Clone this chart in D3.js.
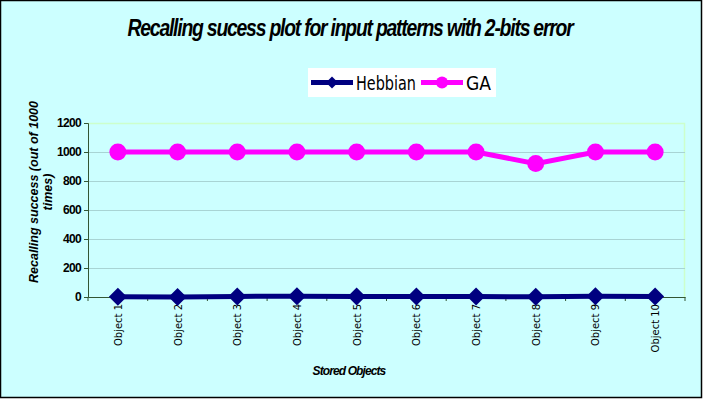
<!DOCTYPE html>
<html>
<head>
<meta charset="utf-8">
<script src="https://cdn.jsdelivr.net/npm/d3@7"></script>
<style>
  body { margin: 0; background: #fff; }
  svg { display: block; }
</style>
</head>
<body>
<svg id="chart" width="704" height="400"></svg>
<script>
var width = 704,
    height = 400;

// data
var objects = ["Object 1", "Object 2", "Object 3", "Object 4", "Object 5",
               "Object 6", "Object 7", "Object 8", "Object 9", "Object 10"];
var hebbian = [2, 0, 4, 6, 3, 3, 3, 2, 6, 3];
var ga = [1000, 1000, 1000, 1000, 1000, 1000, 1000, 920, 1000, 1000];
var yTicks = [0, 200, 400, 600, 800, 1000, 1200];

var margin = {left: 88, right: 19, top: 123, bottom: 103};
var plotW = width - margin.left - margin.right,
    plotH = height - margin.top - margin.bottom;

var svg = d3.select("#chart");

// background + frame
svg.append("rect")
    .attr("x", 0.5).attr("y", 0.5)
    .attr("width", width - 3).attr("height", height - 3)
    .attr("fill", "#ccffff")
    .attr("stroke", "#000").attr("stroke-width", 1.5);

svg.append("text")
    .attr("x", 350).attr("y", 36)
    .attr("text-anchor", "middle")
    .attr("textLength", 445)
    .attr("lengthAdjust", "spacingAndGlyphs")
    .style("font", "italic bold 24px 'Liberation Sans', Arial, sans-serif")
    .style("letter-spacing", "-1.5px")
    .text("Recalling sucess plot for input patterns with 2-bits error");

var x = d3.scaleBand()
    .domain(objects)
    .range([0, plotW]);

var y = d3.scaleLinear()
    .domain([0, 1200])
    .range([plotH, 0]);

var g = svg.append("g")
    .attr("transform", "translate(" + margin.left + "," + margin.top + ")");

// plot area border (light green top/right)
g.append("path")
    .attr("d", "M0,0.5H" + (plotW - 0.5) + "V" + plotH)
    .attr("fill", "none")
    .attr("stroke", "#ccffcc")
    .attr("stroke-width", 1.5);

// gridlines
g.selectAll(".grid")
    .data(yTicks.filter(function(d) { return d > 0 && d < 1200; }))
    .enter()
    .append("line")
        .attr("class", "grid")
        .attr("x1", 0).attr("x2", plotW)
        .attr("y1", function(d) { return Math.round(y(d)) + 0.5; })
        .attr("y2", function(d) { return Math.round(y(d)) + 0.5; })
        .attr("stroke", "#a8d4d4")
        .attr("stroke-width", 1);

// y axis
var yAxis = g.append("g")
    .call(d3.axisLeft(y).tickValues(yTicks).tickFormat(d3.format("d")).tickSize(4).tickPadding(3));
yAxis.select(".domain").attr("stroke", "#335533");
yAxis.selectAll(".tick line").attr("stroke", "#335533");
yAxis.selectAll("text")
    .style("font", "bold 12px 'Liberation Sans', Arial, sans-serif")
    .style("letter-spacing", "-0.7px")
    .attr("fill", "#000");

// x axis
var xAxis = g.append("g")
    .attr("transform", "translate(0," + plotH + ")")
    .call(d3.axisBottom(x).tickSize(0).tickPadding(0).tickFormat(""));
xAxis.select(".domain").attr("stroke", "#335533");
xAxis.selectAll(".tick").remove();

// tick marks between categories
g.selectAll(".xtick")
    .data(objects.concat(["end"]))
    .enter()
    .append("line")
        .attr("class", "xtick")
        .attr("x1", function(d, i) { return i * x.step(); })
        .attr("x2", function(d, i) { return i * x.step(); })
        .attr("y1", plotH).attr("y2", plotH + 4)
        .attr("stroke", "#335533");

g.selectAll(".xlabel")
    .data(objects)
    .enter()
    .append("text")
        .attr("class", "xlabel")
        .attr("transform", function(d) {
            return "translate(" + (x(d) + x.bandwidth() / 2 + 4) + "," + (plotH + 7) + ") rotate(-90)";
        })
        .attr("text-anchor", "end")
        .style("font", "10px 'DejaVu Sans', sans-serif")
        .text(function(d) { return d; });

// axis titles
svg.append("text")
    .attr("transform", "translate(38,192) rotate(-90)")
    .attr("text-anchor", "middle")
    .style("font", "italic bold 12.5px 'Liberation Sans', Arial, sans-serif")
    .text("Recalling success (out of 1000");
svg.append("text")
    .attr("transform", "translate(52,192) rotate(-90)")
    .attr("text-anchor", "middle")
    .style("font", "italic bold 12.5px 'Liberation Sans', Arial, sans-serif")
    .text("times)");

svg.append("text")
    .attr("x", 349).attr("y", 375)
    .attr("text-anchor", "middle")
    .style("font", "italic bold 12px 'Liberation Sans', Arial, sans-serif")
    .style("letter-spacing", "-0.9px")
    .text("Stored Objects");

// series
var cx = function(d, i) { return x(objects[i]) + x.bandwidth() / 2; };

var line = d3.line()
    .x(cx)
    .y(function(d) { return y(d); });

g.append("path")
    .datum(hebbian)
    .attr("fill", "none")
    .attr("stroke", "#000080")
    .attr("stroke-width", 5)
    .attr("d", line);

g.selectAll(".heb")
    .data(hebbian)
    .enter()
    .append("path")
        .attr("class", "heb")
        .attr("transform", function(d, i) { return "translate(" + cx(d, i) + "," + y(d) + ")"; })
        .attr("d", "M0,-9L9,0L0,9L-9,0Z")
        .attr("fill", "#000080");

g.append("path")
    .datum(ga)
    .attr("fill", "none")
    .attr("stroke", "#ff00ff")
    .attr("stroke-width", 5)
    .attr("d", line);

g.selectAll(".ga")
    .data(ga)
    .enter()
    .append("circle")
        .attr("class", "ga")
        .attr("cx", cx)
        .attr("cy", function(d) { return y(d); })
        .attr("r", 8.5)
        .attr("fill", "#ff00ff");

// legend
var legend = svg.append("g").attr("transform", "translate(308,68)");
legend.append("rect")
    .attr("width", 188).attr("height", 29)
    .attr("fill", "#fff");

var items = [
    {name: "Hebbian", color: "#000080", shape: "diamond", x: 3, w: 60},
    {name: "GA", color: "#ff00ff", shape: "circle", x: 113, w: 25}
];
items.forEach(function(it) {
    var li = legend.append("g").attr("transform", "translate(" + it.x + ",14.5)");
    li.append("line")
        .attr("x1", 0).attr("x2", 42)
        .attr("stroke", it.color).attr("stroke-width", 5);
    if (it.shape === "diamond") {
        li.append("path").attr("d", "M21,-6L27,0L21,6L15,0Z").attr("fill", it.color);
    } else {
        li.append("circle").attr("cx", 21).attr("r", 6).attr("fill", it.color);
    }
    li.append("text")
        .attr("x", 45).attr("y", 7)
        .attr("textLength", it.w)
        .attr("lengthAdjust", "spacingAndGlyphs")
        .style("font", "19px 'DejaVu Sans', sans-serif")
        .text(it.name);
});
</script>
</body>
</html>
